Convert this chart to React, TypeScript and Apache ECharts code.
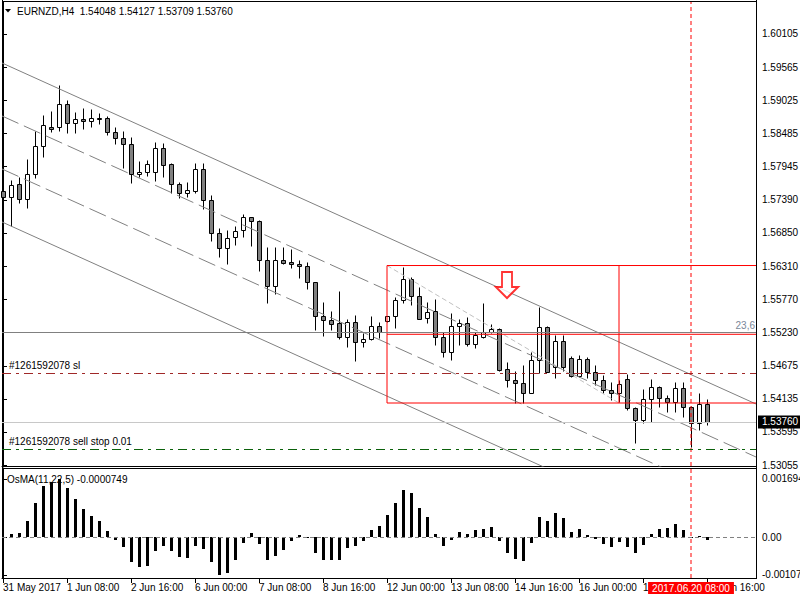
import React, { useEffect, useRef } from 'react';
import * as echarts from 'echarts';

const FONT = '"Liberation Sans", Arial, sans-serif';

// ---------- texts ----------
const headerText = 'EURNZD,H4  1.54048 1.54127 1.53709 1.53760';
const indicatorTitle = 'OsMA(11,22,5) -0.0000749';
const timeLabels = ['31 May 2017', '1 Jun 08:00', '2 Jun 16:00', '6 Jun 00:00', '7 Jun 08:00', '8 Jun 16:00', '12 Jun 00:00', '13 Jun 08:00', '14 Jun 16:00', '16 Jun 00:00', '19 Jun 08:00', '20 Jun 16:00'];
const timeLabelBars = [0, 8, 16, 24, 32, 40, 48, 56, 64, 72, 80, 88];
const priceTicks = [1.60105, 1.59565, 1.59025, 1.58485, 1.57945, 1.5739, 1.5685, 1.5631, 1.5577, 1.5523, 1.54675, 1.54135, 1.53595, 1.53055];
const osmaTicks = [0.001694, 0, -0.001077];

// ---------- candles (H4 bars) ----------
const opens = [1.57537, 1.57439, 1.57647, 1.57401, 1.5781, 1.58273, 1.58579, 1.58579, 1.5896, 1.58644, 1.5871, 1.58682, 1.58724, 1.58726, 1.58502, 1.58399, 1.58301, 1.5781, 1.57843, 1.57843, 1.58235, 1.57974, 1.57647, 1.57499, 1.57532, 1.57892, 1.57385, 1.56845, 1.566, 1.56785, 1.56899, 1.57107, 1.57041, 1.56408, 1.55988, 1.56408, 1.56376, 1.56343, 1.56305, 1.56048, 1.55487, 1.55422, 1.55373, 1.55144, 1.55394, 1.55062, 1.55111, 1.55329, 1.55406, 1.55487, 1.55749, 1.56093, 1.55815, 1.55455, 1.55569, 1.55144, 1.54899, 1.55324, 1.55373, 1.55029, 1.55144, 1.55226, 1.55275, 1.5462, 1.54445, 1.54391, 1.54238, 1.54773, 1.55307, 1.54653, 1.55078, 1.548, 1.54516, 1.54784, 1.54571, 1.54441, 1.54282, 1.54228, 1.54462, 1.53982, 1.53786, 1.5413, 1.54326, 1.54146, 1.54081, 1.5431, 1.54009, 1.53737, 1.54048];
const highs = [1.57717, 1.57717, 1.57771, 1.58065, 1.58523, 1.5878, 1.58846, 1.59271, 1.59025, 1.58829, 1.5889, 1.58873, 1.58818, 1.58764, 1.58589, 1.58518, 1.58415, 1.58028, 1.58044, 1.58343, 1.58317, 1.58003, 1.57679, 1.57684, 1.5799, 1.5799, 1.57472, 1.56927, 1.56899, 1.56969, 1.57156, 1.57117, 1.57063, 1.56626, 1.56626, 1.56626, 1.56583, 1.56408, 1.5638, 1.56055, 1.55721, 1.55574, 1.55901, 1.55443, 1.55509, 1.55209, 1.55492, 1.55399, 1.555, 1.55808, 1.56299, 1.56125, 1.55962, 1.55716, 1.55775, 1.55235, 1.55546, 1.55448, 1.55471, 1.55235, 1.557, 1.55361, 1.55291, 1.54745, 1.54593, 1.54691, 1.54908, 1.55644, 1.55329, 1.55182, 1.55182, 1.54838, 1.54854, 1.54817, 1.54691, 1.54527, 1.54418, 1.54445, 1.54544, 1.54009, 1.54298, 1.54462, 1.54347, 1.542, 1.54418, 1.54418, 1.5402, 1.54228, 1.54127];
const lows = [1.57324, 1.56969, 1.57346, 1.57264, 1.57755, 1.58098, 1.58507, 1.58523, 1.58481, 1.58491, 1.58556, 1.58589, 1.58633, 1.58458, 1.58301, 1.57918, 1.57663, 1.57761, 1.57787, 1.57705, 1.57771, 1.57499, 1.57418, 1.57444, 1.57499, 1.57238, 1.56719, 1.56462, 1.56338, 1.56649, 1.56789, 1.56642, 1.56228, 1.557, 1.55852, 1.56343, 1.56282, 1.56109, 1.55939, 1.55263, 1.5517, 1.55263, 1.55111, 1.5499, 1.54761, 1.5499, 1.551, 1.55128, 1.55394, 1.55291, 1.5571, 1.55672, 1.5544, 1.55373, 1.55018, 1.54827, 1.54773, 1.55018, 1.55006, 1.54964, 1.55135, 1.5522, 1.54597, 1.54336, 1.54064, 1.54064, 1.54228, 1.54555, 1.54575, 1.54478, 1.54588, 1.5449, 1.5449, 1.54473, 1.54364, 1.54228, 1.54118, 1.5409, 1.53955, 1.5342, 1.53747, 1.53763, 1.53999, 1.53927, 1.53927, 1.53845, 1.53349, 1.53628, 1.53709];
const closes = [1.57439, 1.57635, 1.57401, 1.5781, 1.58273, 1.58612, 1.58556, 1.5896, 1.58644, 1.5871, 1.58677, 1.58726, 1.58721, 1.58497, 1.58399, 1.58301, 1.5781, 1.57843, 1.57979, 1.58235, 1.57957, 1.57647, 1.57499, 1.57548, 1.57892, 1.57385, 1.56845, 1.566, 1.56773, 1.56878, 1.57107, 1.57041, 1.56403, 1.55988, 1.56408, 1.56354, 1.56343, 1.56305, 1.56048, 1.55487, 1.55422, 1.55357, 1.55144, 1.55394, 1.55062, 1.55111, 1.55329, 1.55226, 1.55487, 1.55754, 1.56093, 1.55815, 1.55448, 1.55553, 1.55144, 1.54899, 1.55324, 1.55373, 1.55029, 1.55182, 1.55226, 1.55275, 1.54609, 1.54445, 1.54391, 1.54238, 1.54773, 1.55307, 1.54581, 1.55078, 1.54653, 1.54516, 1.54784, 1.54571, 1.54441, 1.54282, 1.54228, 1.54375, 1.53982, 1.53786, 1.5413, 1.54326, 1.54146, 1.5409, 1.5431, 1.54009, 1.53737, 1.54048, 1.5376];

// ---------- OsMA histogram ----------
const osma = [-0.00002, 0.000105, 0.000133, 0.000484, 0.000996, 0.00148, 0.00159, 0.001694, 0.00142, 0.0011, 0.000816, 0.000626, 0.000484, 0.000199, -0.000085, -0.000275, -0.000702, -0.000845, -0.000816, -0.000389, -0.000247, -0.000389, -0.00056, -0.000588, -0.000247, -0.000332, -0.000702, -0.001077, -0.001015, -0.000655, -0.000161, 0.000133, -0.000199, -0.000645, -0.000531, -0.00036, -0.000095, 0.000085, -0.000028, -0.000455, -0.000645, -0.000645, -0.000645, -0.000304, -0.000247, -0.000095, 0.000228, 0.000342, 0.000655, 0.000996, 0.001367, 0.00129, 0.000854, 0.000598, 0.000114, -0.000247, -0.000076, 0.000171, 0.000114, 0.000209, 0.000237, 0.000313, -0.000104, -0.000446, -0.000607, -0.000674, -0.000161, 0.000598, 0.000484, 0.000712, 0.00055, 0.000171, 0.000237, 0.000085, -0.000038, -0.00019, -0.000275, -0.000133, -0.000275, -0.000446, -0.000228, 0.000104, 0.000256, 0.000285, 0.000399, 0.000228, 0.00001, 0.000057, -0.0000749];

// ---------- objects ----------
const channelUpper = [[-0.125, 1.59631], [94.125, 1.54053]];
const channelDash1 = [[-0.125, 1.58764], [94.125, 1.53186]];
const channelDash2 = [[-0.125, 1.57897], [94.125, 1.52319]];
const channelLower = [[-0.125, 1.5703], [94.125, 1.51452]];
const fibTrend = [[48, 1.56318], [77, 1.54069]];
const boxHigh = 1.56318;
const boxLow = 1.54069;
const boxStartBar = 48;
const boxMidBar = 77;
const boxLevel = 1.55193;
const fibLevel = 1.55226;
const fibLevelLabel = '23,6';
const slLevel = 1.5456;
const slLabel = '#1261592078 sl';
const sellStopLevel = 1.53317;
const sellStopLabel = '#1261592078 sell stop 0.01';
const bidPrice = 1.5376;
const markerBar = 86;
const markerLabel = '2017.06.20 08:00';
const arrowPoint = [63, 1.55999];

const priceMin = 1.530387;
const priceMax = 1.606284;
const osmaMin = -0.0011692;
const osmaMax = 0.0020063;
const barMin = -0.125;
const barMax = 94.125;

const seg = (name: string, data: number[][], color: string, type: any, idx = 0) => ({
  type: 'line',
  name,
  xAxisIndex: idx,
  yAxisIndex: idx,
  data,
  symbol: 'none',
  silent: true,
  clip: true,
  z: 3,
  lineStyle: { color, width: 1, type },
});

export default function App() {
  const ref = useRef<HTMLDivElement>(null);
  useEffect(() => {
    if (!ref.current) return;
    const chart = echarts.init(ref.current, null, { renderer: 'svg' });
    const candleData = opens.map((o, i) => [i, o, highs[i], lows[i], closes[i]]);
    const osmaData = osma.map((v, i) => [i, v]);
    const axisCommonX = {
      type: 'value',
      min: barMin,
      max: barMax,
      splitLine: { show: false },
    };
    const option: any = {
      animation: false,
      backgroundColor: '#ffffff',
      textStyle: { fontFamily: FONT },
      grid: [
        { left: 2, right: 44, top: 2, height: 464, outerBoundsMode: 'none', containLabel: false },
        { left: 2, right: 44, top: 468, height: 110, outerBoundsMode: 'none', containLabel: false },
      ],
      xAxis: [
        { ...axisCommonX, gridIndex: 0, position: 'bottom', axisLine: { show: true, onZero: false, lineStyle: { color: '#000' } }, axisTick: { show: false }, axisLabel: { show: false } },
        {
          ...axisCommonX, gridIndex: 1, position: 'bottom',
          axisLine: { show: true, onZero: false, lineStyle: { color: '#000' } },
          axisTick: { show: true, length: 5, customValues: timeLabelBars, lineStyle: { color: '#000' } },
          axisLabel: {
            show: true, customValues: timeLabelBars, align: 'left', margin: 4, color: '#000', fontSize: 10, fontFamily: FONT,
            formatter: (v: number) => timeLabels[timeLabelBars.indexOf(Math.round(v))] ?? '',
          },
        },
        {
          ...axisCommonX, gridIndex: 1, position: 'bottom',
          axisLine: { show: false }, axisTick: { show: false },
          axisLabel: {
            show: true, customValues: [markerBar], align: 'center', margin: 4, color: '#fff', fontSize: 10, fontFamily: FONT,
            backgroundColor: '#ff0000', padding: [1, 4, 1, 4],
            formatter: () => markerLabel,
          },
        },
      ],
      yAxis: [
        {
          type: 'value', gridIndex: 0, position: 'right', min: priceMin, max: priceMax, splitLine: { show: false },
          axisLine: { show: true, lineStyle: { color: '#000' } },
          axisTick: { show: true, length: 4, customValues: priceTicks, lineStyle: { color: '#000' } },
          axisLabel: { customValues: priceTicks, margin: 6, color: '#000', fontSize: 10, fontFamily: FONT, formatter: (v: number) => v.toFixed(5) },
        },
        {
          type: 'value', gridIndex: 1, position: 'right', min: osmaMin, max: osmaMax, splitLine: { show: false },
          axisLine: { show: true, lineStyle: { color: '#000' } },
          axisTick: { show: true, length: 4, customValues: osmaTicks, lineStyle: { color: '#000' } },
          axisLabel: { customValues: osmaTicks, margin: 6, color: '#000', fontSize: 10, fontFamily: FONT, formatter: (v: number) => (v === 0 ? '0.00' : v.toFixed(6)) },
        },
        {
          type: 'value', gridIndex: 0, position: 'right', min: priceMin, max: priceMax, splitLine: { show: false },
          axisLine: { show: false }, axisTick: { show: false },
          axisLabel: {
            customValues: [bidPrice], margin: 2, color: '#fff', fontSize: 10, fontFamily: FONT,
            backgroundColor: '#000', padding: [2, 6, 1, 4],
            formatter: (v: number) => v.toFixed(5),
          },
        },
      ],
      graphic: [
        { type: 'line', shape: { x1: 2.5, y1: 0, x2: 2.5, y2: 579 }, style: { stroke: '#000', lineWidth: 1 } },
        { type: 'line', shape: { x1: 2, y1: 1.5, x2: 756, y2: 1.5 }, style: { stroke: '#000', lineWidth: 1 } },
        { type: 'line', shape: { x1: 756.5, y1: 0, x2: 756.5, y2: 579 }, style: { stroke: '#000', lineWidth: 1 } },
        { type: 'line', shape: { x1: 2, y1: 468.5, x2: 756, y2: 468.5 }, style: { stroke: '#000', lineWidth: 1 } },
        { type: 'polygon', shape: { points: [[5, 9], [11, 9], [8, 12.5]] }, style: { fill: '#000' } },
        { type: 'text', x: 17, y: 11, style: { text: headerText, fill: '#000', font: `10px ${FONT}`, verticalAlign: 'middle' } },
        { type: 'text', x: 7, y: 479, style: { text: indicatorTitle, fill: '#000', font: `10px ${FONT}`, verticalAlign: 'middle' } },
      ],
      series: [
        {
          type: 'custom',
          name: 'EURNZD',
          xAxisIndex: 0,
          yAxisIndex: 0,
          data: candleData,
          encode: { x: 0, y: [1, 2, 3, 4] },
          z: 2,
          renderItem: (params: any, api: any) => {
            const k = api.value(0);
            const o = api.value(1);
            const h = api.value(2);
            const l = api.value(3);
            const c = api.value(4);
            const pO = api.coord([k, o]);
            const pC = api.coord([k, c]);
            const pH = api.coord([k, h]);
            const pL = api.coord([k, l]);
            const x = Math.round(pO[0]) + 0.5;
            const yT = Math.round(Math.min(pO[1], pC[1])) + 0.5;
            const yB = Math.round(Math.max(pO[1], pC[1])) + 0.5;
            const bull = c >= o;
            return {
              type: 'group',
              children: [
                { type: 'line', shape: { x1: x, y1: Math.round(pH[1]) + 0.5, x2: x, y2: Math.round(pL[1]) + 0.5 }, style: { stroke: '#000', lineWidth: 1 } },
                { type: 'rect', shape: { x: x - 2, y: yT, width: 4, height: yB - yT }, style: { fill: bull ? '#ffffff' : '#808080', stroke: '#000', lineWidth: 1 } },
              ],
            };
          },
        },
        seg('channel upper', channelUpper, '#808080', 'solid'),
        seg('channel mid 1', channelDash1, '#808080', [18, 6]),
        seg('channel mid 2', channelDash2, '#808080', [18, 6]),
        seg('channel lower', channelLower, '#808080', 'solid'),
        seg('fibo trend', fibTrend, '#c0c0c0', [5, 3]),
        seg('box top', [[boxStartBar, boxHigh], [barMax, boxHigh]], '#ff0000', 'solid'),
        seg('box bottom', [[boxStartBar, boxLow], [barMax, boxLow]], '#ff0000', 'solid'),
        seg('box left', [[boxStartBar, boxHigh], [boxStartBar, boxLow]], '#ff0000', 'solid'),
        seg('box mid', [[boxMidBar, boxHigh], [boxMidBar, boxLow]], '#ff0000', 'solid'),
        seg('box level', [[boxStartBar, boxLevel], [barMax, boxLevel]], '#ff0000', 'solid'),
        seg('marker main', [[markerBar, priceMin], [markerBar, priceMax]], '#ff0000', [4, 3]),
        {
          type: 'line',
          name: 'levels',
          xAxisIndex: 0,
          yAxisIndex: 0,
          data: [],
          symbol: 'none',
          silent: true,
          z: 3,
          markLine: {
            silent: true,
            precision: 5,
            symbol: ['none', 'none'],
            animation: false,
            data: [
              { yAxis: fibLevel, lineStyle: { color: '#808080', type: 'solid', width: 1 }, label: { show: true, position: 'insideEndTop', formatter: fibLevelLabel, color: '#7a8799', fontSize: 10, fontFamily: FONT, distance: [1, 2] } },
              { yAxis: slLevel, lineStyle: { color: '#a02828', type: [9, 5, 3, 5], width: 1 }, label: { show: true, position: 'insideStartTop', formatter: slLabel, color: '#000', fontSize: 10, fontFamily: FONT, distance: [7, 2] } },
              { yAxis: sellStopLevel, lineStyle: { color: '#0b610b', type: [9, 5, 3, 5], width: 1 }, label: { show: true, position: 'insideStartTop', formatter: sellStopLabel, color: '#000', fontSize: 10, fontFamily: FONT, distance: [7, 2] } },
              { yAxis: bidPrice, lineStyle: { color: '#c8c8c8', type: 'solid', width: 1 }, label: { show: false } },
            ],
          },
        },
        {
          type: 'scatter',
          name: 'sell arrow',
          xAxisIndex: 0,
          yAxisIndex: 0,
          data: [arrowPoint],
          symbol: 'path://M6,0L16,0L16,15L22,15L11,26L0,15L6,15Z',
          symbolSize: [22, 26],
          z: 4,
          silent: true,
          itemStyle: { color: '#ffffff', borderColor: '#ff0000', borderWidth: 2 },
        },
        {
          type: 'custom',
          name: 'OsMA',
          xAxisIndex: 1,
          yAxisIndex: 1,
          data: osmaData,
          encode: { x: 0, y: 1 },
          z: 2,
          renderItem: (params: any, api: any) => {
            const k = api.value(0);
            const v = api.value(1);
            const p0 = api.coord([k, 0]);
            const p1 = api.coord([k, v]);
            const x = Math.round(p0[0]);
            const top = Math.round(Math.min(p0[1], p1[1]));
            const bot = Math.round(Math.max(p0[1], p1[1]));
            return { type: 'rect', shape: { x: x - 1, y: top, width: 3, height: Math.max(1, bot - top) }, style: { fill: '#000' } };
          },
        },
        seg('zero level', [[barMin, 0], [barMax, 0]], '#808080', [4, 3], 1),
        seg('marker sub', [[markerBar, osmaMin], [markerBar, osmaMax]], '#ff0000', [4, 3], 1),
      ],
    };
    chart.setOption(option);
    return () => chart.dispose();
  }, []);
  return <div ref={ref} style={{ width: 800, height: 600, position: 'absolute', left: 0, top: 0 }} />;
}
